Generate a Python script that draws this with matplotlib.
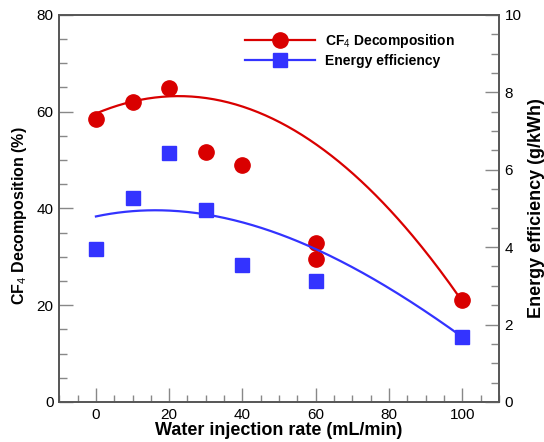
import numpy as np
import matplotlib
matplotlib.use("Agg")
import matplotlib.pyplot as plt
from matplotlib.ticker import MultipleLocator

plt.rcParams["font.family"] = ["Liberation Sans", "DejaVu Sans"]
plt.rcParams["mathtext.fontset"] = "custom"
plt.rcParams["mathtext.rm"] = "Liberation Sans"
plt.rcParams["mathtext.bf"] = "Liberation Sans:bold"

# measured points
cf4_x = [0, 10, 20, 30, 40, 60, 60, 100]
cf4_y = [58.5, 61.9, 64.9, 51.6, 49.0, 32.9, 29.6, 21.0]
eff_x = [0, 10, 20, 30, 40, 60, 100]
eff_y = [3.94, 5.26, 6.44, 4.97, 3.53, 3.12, 1.69]

# trend curves at a few x positions
cf4_curve_x = [0, 22, 48, 83, 100]
cf4_curve_y = [59.6, 63.1, 58.9, 37.0, 21.0]
eff_curve_x = [0, 17, 48, 60, 80, 100]
eff_curve_y = [4.80, 4.93, 4.46, 3.90, 2.95, 1.68]

RED = "#d90000"
BLUE = "#3333ff"
AXIS = "#555555"

fig = plt.figure(figsize=(5.44, 4.42), dpi=100)
ax = fig.add_axes([0.109, 0.0905, 0.808, 0.876])
ax2 = ax.twinx()

xs = np.linspace(0, 100, 200)
red_fit = np.poly1d(np.polyfit(cf4_curve_x, cf4_curve_y, 2))
blue_fit = np.poly1d(np.polyfit(eff_curve_x, eff_curve_y, 3))

ax.plot(xs, red_fit(xs), color=RED, lw=1.6)
ax.plot(cf4_x, cf4_y, "o", color=RED, ms=11, mec=RED)
ax2.plot(xs, blue_fit(xs), color=BLUE, lw=1.6)
ax2.plot(eff_x, eff_y, "s", color=BLUE, ms=10, mec=BLUE)

ax.set_xlim(-10, 110)
ax.set_ylim(0, 80)
ax2.set_ylim(0, 10)

ax.xaxis.set_major_locator(MultipleLocator(20))
ax.xaxis.set_minor_locator(MultipleLocator(5))
ax.yaxis.set_major_locator(MultipleLocator(20))
ax.yaxis.set_minor_locator(MultipleLocator(5))
ax2.yaxis.set_major_locator(MultipleLocator(2))
ax2.yaxis.set_minor_locator(MultipleLocator(0.5))

for a in (ax, ax2):
    a.tick_params(which="major", direction="in", length=10, width=1, color="#888888", labelsize=11, pad=4)
    a.tick_params(which="minor", direction="in", length=6, width=1, color="#888888")
    for sp in a.spines.values():
        sp.set_color(AXIS)
        sp.set_linewidth(1.2)
ax.tick_params(top=False, which="both")
ax.tick_params(axis="x", which="minor", length=5)

ax.set_xlabel("Water injection rate (mL/min)", fontsize=13, fontweight="bold", labelpad=0)
ax.set_ylabel("CF$_{\\mathrm{4}}$ Decomposition (%)", fontsize=11.5, fontweight="bold")
ax.yaxis.set_label_coords(-0.068, 0.48)
ax2.set_ylabel("Energy efficiency (g/kWh)", fontsize=13, fontweight="bold", labelpad=5)

# legend
h1, = ax.plot([], [], "-o", color=RED, ms=11, lw=1.6)
h2, = ax.plot([], [], "-s", color=BLUE, ms=10, lw=1.6)
ax.legend([h1, h2], ["CF$_{\\mathrm{4}}$ Decomposition", "Energy efficiency"],
          loc="upper right", bbox_to_anchor=(0.929, 0.988), frameon=False,
          prop={"weight": "bold", "size": 10}, handlelength=5.1, handletextpad=0.72,
          labelspacing=0.28)

fig.savefig("out.png", dpi=100)
